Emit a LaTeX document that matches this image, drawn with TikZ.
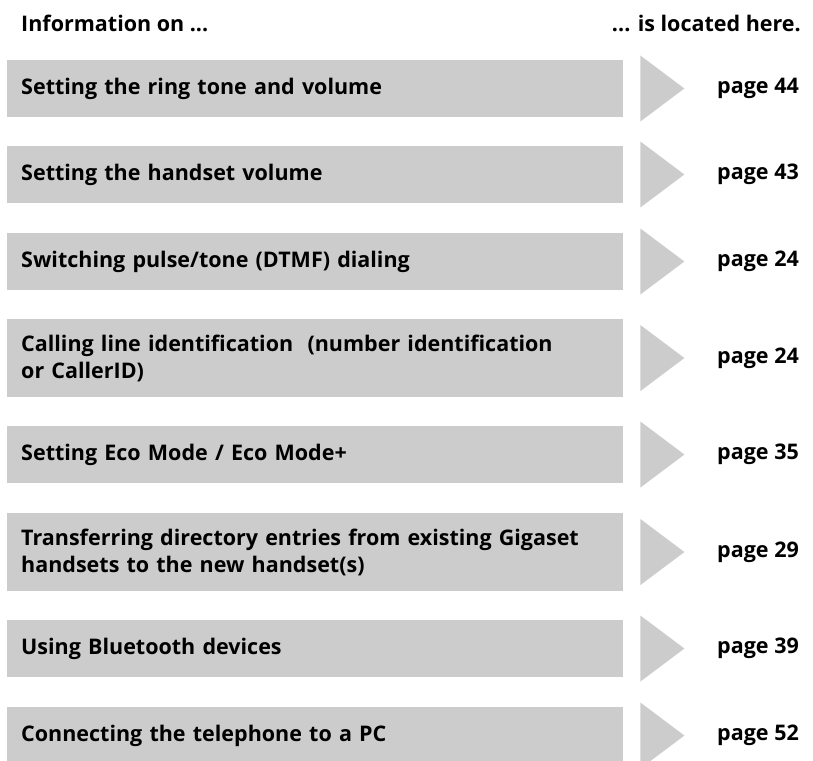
\documentclass[tikz,border=0pt]{standalone}
\usepackage{fontspec}
\setmainfont{Open Sans}
\definecolor{barfill}{RGB}{204,204,204}

\begin{document}
\begin{tikzpicture}[x=1pt,y=-1pt]
        \clip (0,0) rectangle (813,760);
        \begin{scope}[every node/.style={font=\bfseries\fontsize{21.5}{27}\selectfont,inner sep=0pt}]
            \node[anchor=base west] (hL) at (21,32) {Information on ...};
            \node[anchor=base east] (hR) at (801,32) {... is located here.};
        \end{scope}

        \begin{scope}[every node/.style={fill=barfill,anchor=west,align=left,
                    text width=588pt,inner xsep=14pt,inner ysep=0pt,minimum height=57pt,
                    font=\bfseries\fontsize{21.5}{27}\selectfont}]
            \node (B1) at (7, 88.5) {Setting the ring tone and volume};
            \node (B2) at (7,174.5) {Setting the handset volume};
            \node (B3) at (7,261.5) {Switching pulse/tone (DTMF) dialing};
            \node[minimum height=78pt] (B4) at (7,358) {Calling line identification~ (number identification\\or CallerID)};
            \node (B5) at (7,454.5) {Setting Eco Mode / Eco Mode+};
            \node[minimum height=78pt] (B6) at (7,552) {Transferring directory entries from existing Gigaset\\handsets to the new handset(s)};
            \node (B7) at (7,648.5) {Using Bluetooth devices};
            \node (B8) at (7,735.5) {Connecting the telephone to a PC};
        \end{scope}

        \begin{scope}[every path/.style={fill=barfill}]
            \path ([xshift=17pt,yshift=33pt]B1.east) -- ([xshift=61pt]B1.east) -- ([xshift=17pt,yshift=-33pt]B1.east) -- cycle;
            \path ([xshift=17pt,yshift=33pt]B2.east) -- ([xshift=61pt]B2.east) -- ([xshift=17pt,yshift=-33pt]B2.east) -- cycle;
            \path ([xshift=17pt,yshift=33pt]B3.east) -- ([xshift=61pt]B3.east) -- ([xshift=17pt,yshift=-33pt]B3.east) -- cycle;
            \path ([xshift=17pt,yshift=33pt]B4.east) -- ([xshift=61pt]B4.east) -- ([xshift=17pt,yshift=-33pt]B4.east) -- cycle;
            \path ([xshift=17pt,yshift=33pt]B5.east) -- ([xshift=61pt]B5.east) -- ([xshift=17pt,yshift=-33pt]B5.east) -- cycle;
            \path ([xshift=17pt,yshift=33pt]B6.east) -- ([xshift=61pt]B6.east) -- ([xshift=17pt,yshift=-33pt]B6.east) -- cycle;
            \path ([xshift=17pt,yshift=33pt]B7.east) -- ([xshift=61pt]B7.east) -- ([xshift=17pt,yshift=-33pt]B7.east) -- cycle;
            \path ([xshift=17pt,yshift=33pt]B8.east) -- ([xshift=61pt]B8.east) -- ([xshift=17pt,yshift=-33pt]B8.east) -- cycle;
        \end{scope}

        \begin{scope}[every node/.style={anchor=east,inner sep=0pt,
                    font=\bfseries\fontsize{21.5}{27}\selectfont}]
            \node (P1) at (799, 88.5) {page 44};
            \node (P2) at (799,174.5) {page 43};
            \node (P3) at (799,261.5) {page 24};
            \node (P4) at (799,358) {page 24};
            \node (P5) at (799,454.5) {page 35};
            \node (P6) at (799,552) {page 29};
            \node (P7) at (799,648.5) {page 39};
            \node (P8) at (799,735.5) {page 52};
        \end{scope}
    \end{tikzpicture}
\end{document}
